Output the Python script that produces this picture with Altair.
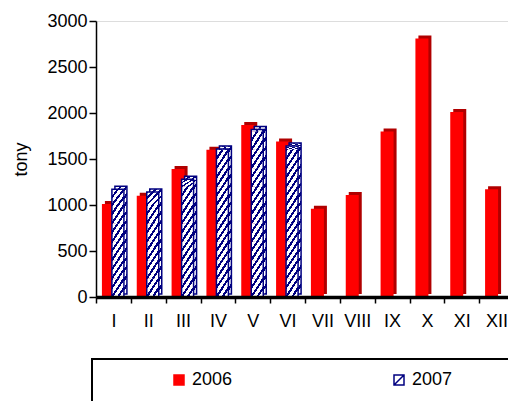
import altair as alt
import pandas as pd

months = ["I", "II", "III", "IV", "V", "VI", "VII", "VIII", "IX", "X", "XI", "XII"]
v2006 = [1010, 1100, 1390, 1600, 1870, 1690, 960, 1110, 1800, 2810, 2010, 1170]
months2007 = ["I", "II", "III", "IV", "V", "VI"]
v2007 = [1170, 1140, 1280, 1610, 1820, 1640]
years = ["2006", "2007"]
y_ticks = [0, 500, 1000, 1500, 2000, 2500, 3000]

FONT = "Liberation Sans"
RED = "#FF0000"
DARKRED = "#B00000"
NAVY = "#000080"
SEG = 200

df06 = pd.DataFrame({"month": months, "value": v2006})
df07 = pd.DataFrame({"month": months2007, "value": v2007})
rows = []
for m, v in zip(months2007, v2007):
    k = 0
    while k * SEG < v:
        rows.append({"month": m, "y0": k * SEG, "y1": min((k + 1) * SEG, v)})
        k += 1
dseg = pd.DataFrame(rows)
dleg = pd.DataFrame({"year": years})

stops = []
for a, b, c in [(0, 0.05, NAVY), (0.05, 0.20, "white"), (0.20, 0.30, NAVY), (0.30, 0.45, "white"),
                (0.45, 0.55, NAVY), (0.55, 0.70, "white"), (0.70, 0.80, NAVY), (0.80, 0.95, "white"),
                (0.95, 1.0, NAVY)]:
    stops.append(alt.GradientStop(offset=a, color=c))
    stops.append(alt.GradientStop(offset=b, color=c))
hatch = alt.Gradient(gradient="linear", stops=stops, x1=0, y1=0, x2=1, y2=1)

xscale = alt.Scale(domain=months, paddingInner=0, paddingOuter=0, range=[0, 418])
yscale = alt.Scale(domain=[0, 3000], nice=False)

xenc = alt.X("month:N", scale=xscale, title=None,
             axis=alt.Axis(tickBand="extent", labelAngle=0, labelFontSize=18, labelColor="black",
                           labelFont=FONT, labelPadding=9, tickSize=6, tickWidth=1.5,
                           tickColor="black", domainColor="black", domainWidth=3.5, zindex=1))
yenc = alt.Y("value:Q", scale=yscale, title="tony",
             axis=alt.Axis(values=y_ticks, format="d", grid=False, labelFontSize=18, labelColor="black",
                           labelFont=FONT, tickSize=7, tickWidth=1.5, tickColor="black",
                           domainColor="black", domainWidth=1.5, labelPadding=2,
                           titleFontSize=18, titleFontWeight="normal", titleFont=FONT,
                           titleColor="black", titlePadding=16))

red_back = alt.Chart(df06).mark_bar(color=DARKRED, width=13, xOffset=-2, yOffset=-3).encode(x=xenc, y=yenc)
red_front = alt.Chart(df06).mark_bar(color=RED, width=13, xOffset=-5).encode(x=xenc, y=yenc)

def seg_layer(dx, dy):
    return alt.Chart(dseg).mark_bar(fill=hatch, width=12, xOffset=dx, yOffset=dy, y2Offset=dy).encode(
        x=xenc, y=alt.Y("y0:Q", scale=yscale), y2="y1:Q")

def outline_layer(dx, dy):
    return alt.Chart(df07).mark_bar(fill=None, fillOpacity=0, stroke=NAVY, strokeWidth=1.5, width=12,
                                    xOffset=dx, yOffset=dy).encode(x=xenc, y=yenc)

legend_pts = alt.Chart(dleg).mark_point(filled=True, size=190, strokeWidth=3, opacity=1).encode(
    x=alt.value(-600), y=alt.value(-600),
    fill=alt.Fill("year:N", scale=alt.Scale(domain=years, range=[RED, "white"]),
                  legend=alt.Legend(title=None, orient="none", direction="horizontal",
                                    legendX=74, legendY=350, labelFontSize=18, labelFont=FONT,
                                    labelColor="black", columnPadding=157, symbolOpacity=1,
                                    labelOffset=4, padding=0)),
    stroke=alt.Stroke("year:N", scale=alt.Scale(domain=years, range=[RED, NAVY])),
    shape=alt.Shape("year:N", scale=alt.Scale(domain=years,
                                               range=["M-1,-1H1V1H-1Z", "M-1,-1H1V1H-1Z M-1,1L1,-1"])),
)

legend_box = alt.Chart(dleg).mark_rect(fill=None, stroke="black", strokeWidth=2).encode(
    x=alt.value(-4), x2=alt.value(440), y=alt.value(338), y2=alt.value(420))

chart = alt.layer(
    red_back, red_front,
    seg_layer(7.5, -3), outline_layer(7.5, -3),
    seg_layer(4.5, 0), outline_layer(4.5, 0),
    legend_pts, legend_box,
).properties(
    width=412, height=276,
    autosize=alt.AutoSizeParams(type="none"),
    padding={"left": 88, "top": 13, "right": 0, "bottom": 104},
).configure_view(stroke=None).configure(font=FONT)

chart.save("out.html", embed_options={"renderer": "svg", "actions": False})
